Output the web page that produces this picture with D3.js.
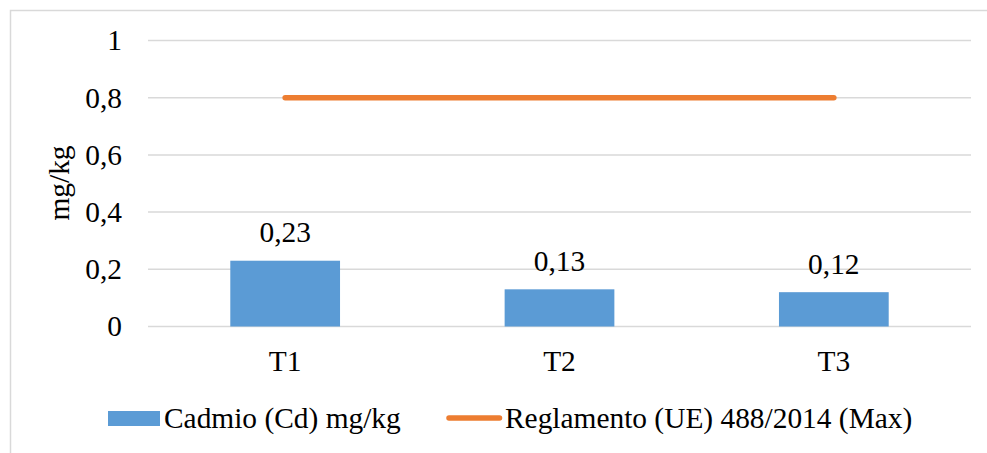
<!DOCTYPE html>
<html><head><meta charset="utf-8">
<script src="https://cdn.jsdelivr.net/npm/d3@7"></script>
<style>html,body{margin:0;padding:0;background:#fff;}svg{display:block;}
text{font-family:"Liberation Serif","Times New Roman",Times,serif;}</style>
</head><body>
<svg id="chart" width="987" height="453"></svg>
<script>
const categories = ["T1", "T2", "T3"];
const cadmio = [0.23, 0.13, 0.12];
const reglamento = [0.8, 0.8, 0.8];
const yTicks = [0, 0.2, 0.4, 0.6, 0.8, 1];
const seriesNames = ["Cadmio (Cd) mg/kg", "Reglamento (UE) 488/2014 (Max)"];
const yTitle = "mg/kg";

const svg = d3.select("#chart");
const fs = 29.4;
const fmt = v => String(v).replace(".", ",");

// outer border
svg.append("path").attr("d", "M10.5,453 V10.5 H987").attr("fill", "none").attr("stroke", "#d9d9d9").attr("stroke-width", 1.5);

const x = d3.scaleBand().domain(categories).range([148, 971]).paddingInner(0.6).paddingOuter(0.3);
const y = d3.scaleLinear().domain([0, 1]).range([326.5, 40.5]);

// gridlines
svg.append("g").selectAll("line").data(yTicks).join("line")
  .attr("x1", 148).attr("x2", 971)
  .attr("y1", d => y(d)).attr("y2", d => y(d))
  .attr("stroke", "#d9d9d9").attr("stroke-width", 1.5);

// y tick labels
svg.append("g").selectAll("text").data(yTicks).join("text")
  .attr("x", 122).attr("y", d => y(d) + 9.8)
  .attr("text-anchor", "end").attr("font-size", fs).attr("fill", "#000")
  .text(d => fmt(d));

// y title
svg.append("text").attr("transform", "translate(69,183) rotate(-90)")
  .attr("text-anchor", "middle").attr("font-size", fs).attr("fill", "#000")
  .text(yTitle);

// bars
svg.append("g").selectAll("rect").data(cadmio).join("rect")
  .attr("x", (d, i) => x(categories[i])).attr("width", x.bandwidth())
  .attr("y", d => y(d)).attr("height", d => y(0) - y(d))
  .attr("fill", "#5b9bd5");

// data labels
svg.append("g").selectAll("text").data(cadmio).join("text")
  .attr("x", (d, i) => x(categories[i]) + x.bandwidth() / 2).attr("y", d => y(d) - 18.5)
  .attr("text-anchor", "middle").attr("font-size", fs).attr("fill", "#000")
  .text(d => fmt(d));

// line
const line = d3.line().x((d, i) => x(categories[i]) + x.bandwidth() / 2).y(d => y(d));
svg.append("path").datum(reglamento).attr("d", line)
  .attr("fill", "none").attr("stroke", "#ed7d31").attr("stroke-width", 5.5).attr("stroke-linecap", "round");

// x tick labels
svg.append("g").selectAll("text").data(categories).join("text")
  .attr("x", d => x(d) + x.bandwidth() / 2).attr("y", 371)
  .attr("text-anchor", "middle").attr("font-size", fs).attr("fill", "#000")
  .text(d => d);

// legend
const lg = svg.append("g");
lg.append("rect").attr("x", 108).attr("y", 411).attr("width", 52).attr("height", 15).attr("fill", "#5b9bd5");
lg.append("text").attr("x", 164).attr("y", 428).attr("font-size", fs).attr("fill", "#000").text(seriesNames[0]);
lg.append("line").attr("x1", 449).attr("x2", 499.5).attr("y1", 418).attr("y2", 418)
  .attr("stroke", "#ed7d31").attr("stroke-width", 5.5).attr("stroke-linecap", "round");
lg.append("text").attr("x", 505).attr("y", 428).attr("font-size", fs).attr("fill", "#000").text(seriesNames[1]);
</script>
</body></html>
